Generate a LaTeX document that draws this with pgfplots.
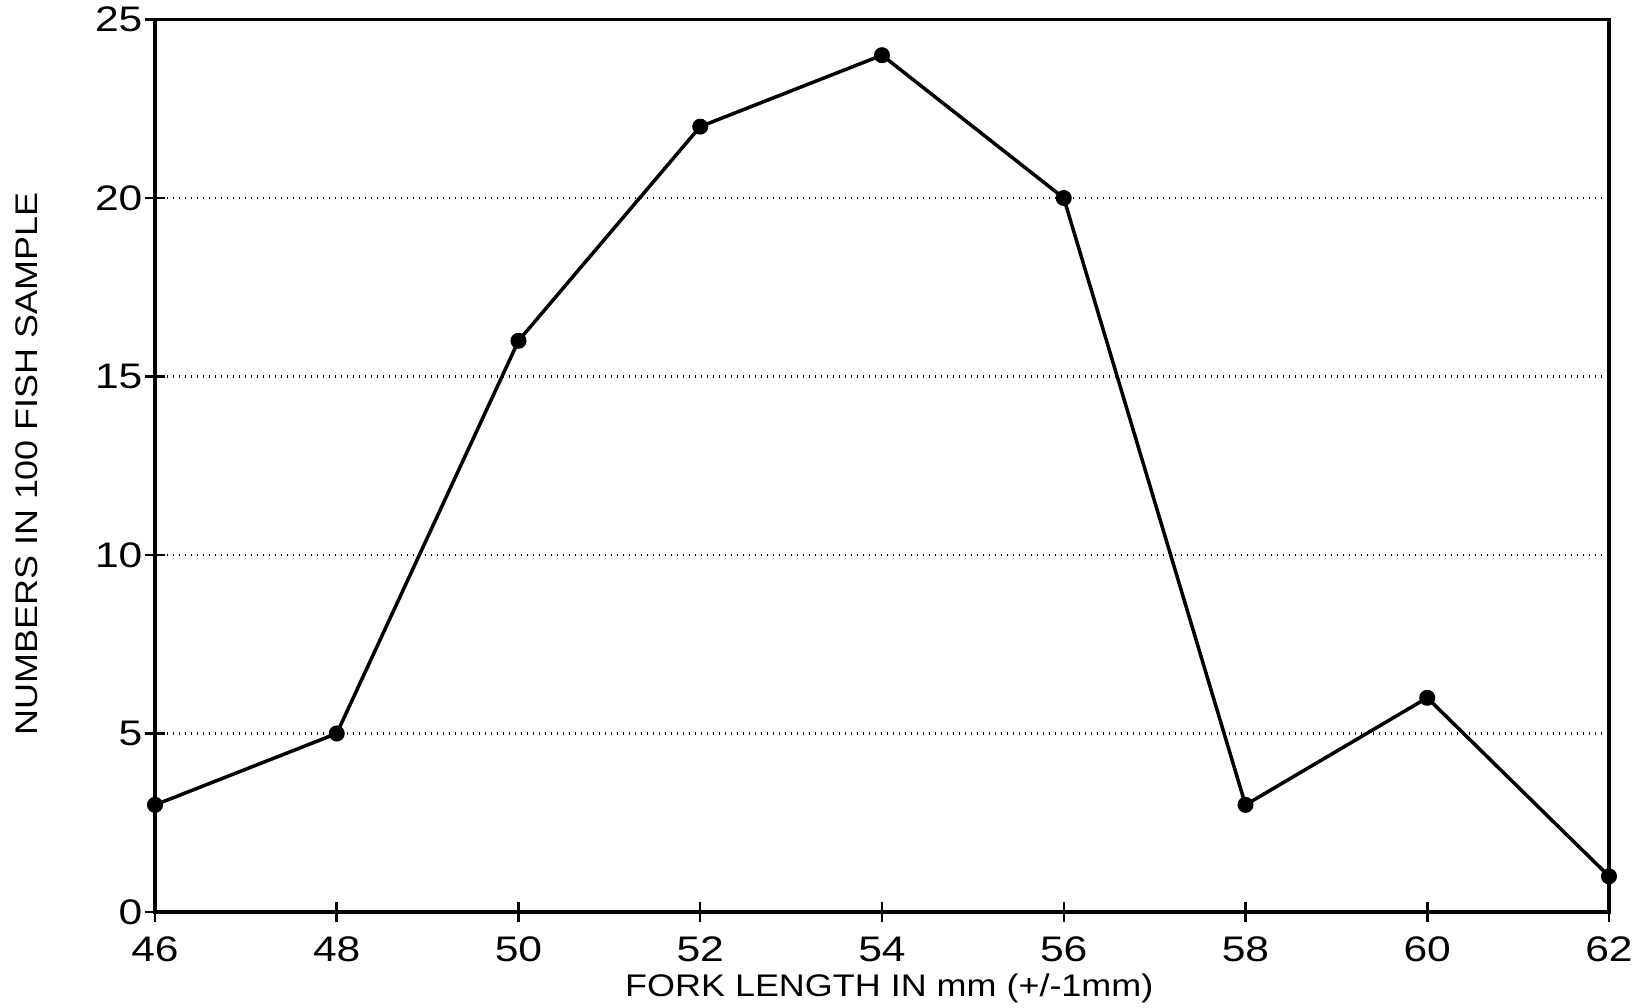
\documentclass[border=0pt]{standalone}
\usepackage{fontspec}
\setmainfont{Liberation Sans}[FakeStretch=1.15]
\newfontfamily\tickfont[FakeStretch=1.2]{Liberation Sans}
\usepackage{pgfplots}
\pgfplotsset{compat=1.18}

\begin{document}
\begin{tikzpicture}
\begin{axis}[
  scale only axis,
  width=581.6pt, height=357pt,
  xmin=46, xmax=62, ymin=0, ymax=25,
  xtick={46,48,...,62},
  ytick={0,5,...,25},
  xtick pos=bottom, ytick pos=left,
  axis line style={line width=1.3pt},
  every tick/.style={black, line width=1pt},
  xtick align=center, ytick align=center,
  major tick length=8pt,
  ymajorgrids,
  grid style={black, dotted, line width=1pt},
  tick label style={font=\tickfont\fontsize{14.2}{16}\selectfont},
  /pgf/number format/assume math mode=true,
  xticklabel style={yshift=-2.5pt},
  yticklabel style={xshift=2.5pt},
  xlabel={FORK LENGTH IN mm (+/-1mm)},
  ylabel={NUMBERS IN 100 FISH SAMPLE},
  label style={font=\fontsize{12.5}{14}\selectfont},
  xlabel style={at={(axis description cs:0.505,-0.086)}, anchor=center},
  ylabel style={at={(axis description cs:-0.088,0.502)}, anchor=center},
  clip=false,
]
\addplot[black, line width=1.4pt, mark=*, mark size=2.5pt] coordinates {
  (46,3) (48,5) (50,16) (52,22) (54,24) (56,20) (58,3) (60,6) (62,1)
};
\end{axis}
\pgfresetboundingbox
\path (-62pt,-38.4pt) rectangle (594.8pt,364.8pt);
\end{tikzpicture}
\end{document}
